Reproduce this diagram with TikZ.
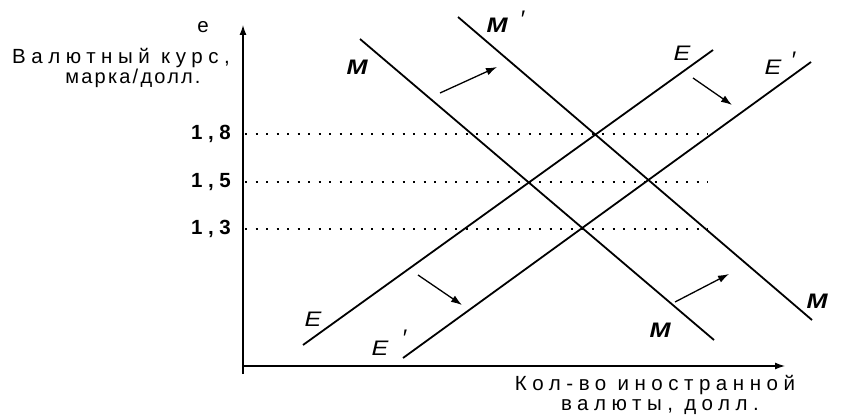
\documentclass[tikz,border=0pt]{standalone}
\usepackage{fontspec}
\setmainfont{Liberation Sans}
\newfontfamily\spaced[LetterSpace=27]{Liberation Sans}
\newfontfamily\spacedtight[LetterSpace=11]{Liberation Sans}
\usetikzlibrary{arrows.meta}
\begin{document}
\begin{tikzpicture}[x=1pt,y=-1pt,
  curve/.style={line width=1.8pt},
  axisline/.style={line width=1.3pt,-{Latex[length=10pt,width=7pt]}},
  shiftarrow/.style={line width=1.3pt,-{Latex[length=11pt,width=7.5pt]}},
  guide/.style={line width=1.1pt,dash pattern=on 2pt off 8.5pt},
  txt/.style={font=\fontsize{20.5}{22}\selectfont\spaced,inner sep=0pt},
  txtb/.style={font=\fontsize{20}{22}\selectfont\spacedtight,inner sep=0pt},
  num/.style={font=\fontsize{20.5}{22}\selectfont\spaced\bfseries,inner sep=0pt,anchor=east},
  mlab/.style={font=\fontsize{21}{21}\selectfont\bfseries\itshape,inner sep=0pt},
  elab/.style={font=\fontsize{21}{21}\selectfont\itshape,inner sep=0pt},
  plab/.style={font=\fontsize{24}{24}\selectfont,inner sep=0pt}]
\useasboundingbox (0,0) rectangle (842,417);
% axes
\coordinate (O) at (243,366);
\coordinate (Ybot) at (243,374);
\coordinate (Ytop) at (243,25);
\coordinate (Xend) at (785,366);
\draw[axisline] (Ybot) -- (Ytop);
\draw[axisline] (O) -- (Xend);
% guide lines
\coordinate (g18a) at (245,134); \coordinate (g18b) at (708,134);
\coordinate (g15a) at (245,182); \coordinate (g15b) at (708,182);
\coordinate (g13a) at (245,229); \coordinate (g13b) at (708,229);
\draw[guide] (g18a) -- (g18b);
\draw[guide] (g15a) -- (g15b);
\draw[guide] (g13a) -- (g13b);
\node[num] (n18) at (231,134) {1,8};
\node[num] (n15) at (231,182) {1,5};
\node[num] (n13) at (231,229) {1,3};
% curves
\coordinate (M1) at (360,39);  \coordinate (M2) at (714,340);
\coordinate (Mp1) at (458,17); \coordinate (Mp2) at (812,320);
\coordinate (E1) at (303,345); \coordinate (E2) at (713,50);
\coordinate (Ep1) at (403,358); \coordinate (Ep2) at (811,62);
\draw[curve] (M1) -- (M2);
\draw[curve] (Mp1) -- (Mp2);
\draw[curve] (E1) -- (E2);
\draw[curve] (Ep1) -- (Ep2);
% shift arrows
\coordinate (a1s) at (440,93);  \coordinate (a1e) at (497,67);
\coordinate (a2s) at (693,78);  \coordinate (a2e) at (732,105);
\coordinate (a3s) at (418,275); \coordinate (a3e) at (462,305);
\coordinate (a4s) at (675,302); \coordinate (a4e) at (729,274);
\draw[shiftarrow] (a1s) -- (a1e);
\draw[shiftarrow] (a2s) -- (a2e);
\draw[shiftarrow] (a3s) -- (a3e);
\draw[shiftarrow] (a4s) -- (a4e);
% curve labels
\node[mlab] (lM1) at (357,67) {\scalebox{1.2}[1]{M}};
\node[mlab] (lMp) at (497,25) {\scalebox{1.2}[1]{M}};
\node[plab] (lMpp) at (523,19) {′};
\node[mlab] (lM2) at (660,330) {\scalebox{1.2}[1]{M}};
\node[mlab] (lM3) at (817,301) {\scalebox{1.2}[1]{M}};
\node[elab] (lE1) at (682,53) {\scalebox{1.2}[1]{E}};
\node[elab] (lEp1) at (773,67) {\scalebox{1.2}[1]{E}};
\node[plab] (lEp1p) at (794,60) {′};
\node[elab] (lE2) at (313,319) {\scalebox{1.2}[1]{E}};
\node[elab] (lEp2) at (380,348) {\scalebox{1.2}[1]{E}};
\node[plab] (lEp2p) at (405,338) {′};
% axis labels
\node[txt] (le) at (203,27) {e};
\node[txt] (ly1) at (121,58) {Валютный курс,};
\node[txtb] (ly2) at (133,78) {марка/долл.};
\node[txt] (lx1) at (655,385) {Кол-во иностранной};
\node[txt] (lx2) at (660,407) {валюты, долл.};
\end{tikzpicture}
\end{document}
